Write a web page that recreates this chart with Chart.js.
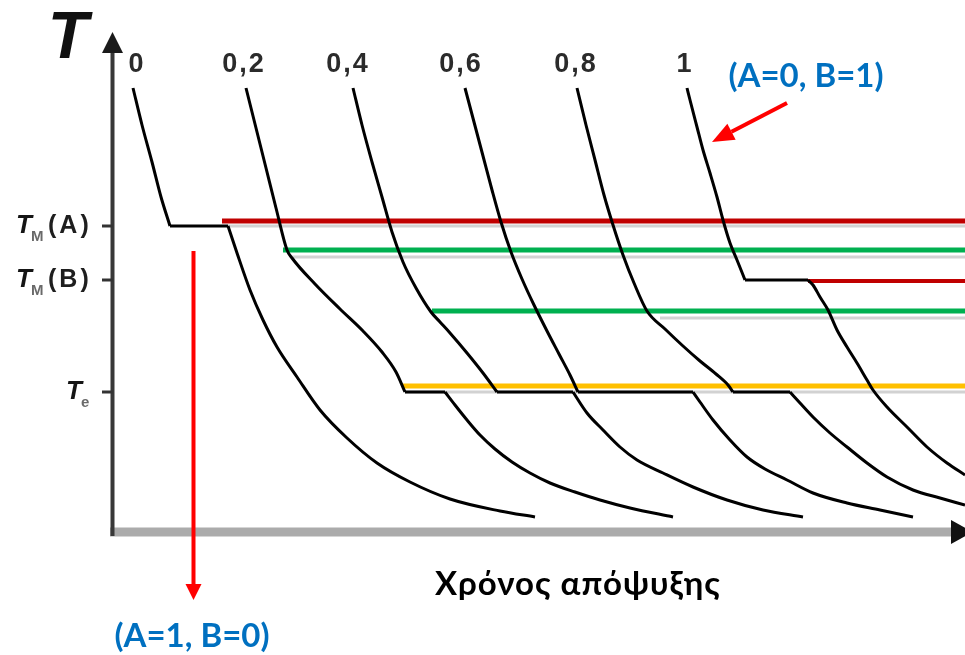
<!DOCTYPE html>
<html>
<head>
<meta charset="utf-8">
<script src="https://cdn.jsdelivr.net/npm/chart.js@4.4.0/dist/chart.umd.min.js"></script>
<style>
  html, body { margin: 0; padding: 0; background: #fff; }
  #wrap { width: 965px; height: 655px; }
</style>
</head>
<body>
<div id="wrap"><canvas id="chart" width="965" height="655"></canvas></div>
<script>
// cooling curves: t = time, T = temperature (arbitrary units)
const compLabels = ["0", "0,2", "0,4", "0,6", "0,8", "1"];
const compLabelT = [24, 131, 235, 348, 463, 572];

const curve00 = [[20,444],[29,407],[39,370],[48,335],[57,306],[115,306],[124,279],[137,242],[150,212],[164,185],[184,155],[207,122],[234,94],[264,69],[297,50],[337,33],[387,21],[422,15]];
const curve02 = [[133,444],[143,404],[153,364],[163,324],[174,282],[179,274],[202,248],[227,223],[250,201],[269,180],[283,160],[292,140],[332,140],[342,127],[354,112],[367,97],[382,83],[399,70],[417,59],[437,49],[462,40],[487,32],[517,24],[560,15]];
const curve04 = [[240,444],[249,407],[259,370],[269,335],[279,300],[290,270],[303,244],[318,220],[327,210],[337,199],[354,179],[370,159],[384,140],[460,140],[474,119],[490,102],[507,85],[524,72],[550,59],[580,45],[614,32],[650,22],[690,15]];
const curve06 = [[352,444],[361,410],[370,376],[379,342],[388,310],[398,280],[409,253],[421,227],[434,201],[446,178],[457,157],[465,140],[580,140],[587,130],[600,112],[617,92],[634,75],[652,63],[674,52],[700,39],[734,29],[767,22],[800,15]];
const curve08 = [[464,444],[473,407],[482,372],[491,337],[500,307],[510,277],[521,249],[534,221],[552,203],[570,186],[587,171],[603,158],[615,147],[620,140],[677,140],[687,129],[700,115],[717,99],[734,85],[754,69],[774,55],[800,42],[827,34],[852,27]];
const curve10 = [[574,444],[577,432],[584,405],[590,382],[597,359],[604,335],[610,312],[617,289],[624,272],[632,252],[695,252],[700,247],[707,235],[715,222],[724,202],[734,185],[744,169],[754,152],[760,142],[774,125],[794,105],[814,85],[834,69],[852,57]];

const tickLevels = [306, 252, 140];
const tickMain = ["T", "T", "T"];
const tickSub = ["M", "M", "e"];
const tickTail = ["(A)", "(B)", ""];

// coloured marker lines: start time and level
const markStart = [109, 170, 695, 319, 289];
const markLevel = [311, 282, 251, 221, 146];
// faint grey lines under them
const shadowStart = [115, 177, 547, 292];
const shadowLevel = [306, 275, 214, 140];

const tEnd = 852;

const curves = [curve00, curve02, curve04, curve06, curve08, curve10];
const markColors = ["#c00000", "#00b050", "#c00000", "#00b050", "#ffc000"];
const markWidths = [5, 5, 4, 5, 5];

const toXY = arr => arr.map(p => ({ x: p[0], y: p[1] }));

// cut a curve at its flat parts so the corners stay sharp
function pieces(c) {
  const out = [];
  let cur = [c[0]];
  for (let i = 0; i < c.length - 1; i++) {
    if (c[i][1] === c[i + 1][1]) {
      if (cur.length > 1) out.push(cur);
      out.push([c[i], c[i + 1]]);
      cur = [c[i + 1]];
    } else {
      cur.push(c[i + 1]);
    }
  }
  if (cur.length > 1) out.push(cur);
  return out;
}

const datasets = [];
curves.forEach(c => {
  pieces(c).forEach(p => {
    datasets.push({
      data: toXY(p),
      borderColor: "#000",
      borderWidth: 3,
      pointRadius: 0,
      showLine: true,
      cubicInterpolationMode: "monotone",
      order: 0
    });
  });
});
markStart.forEach((s, i) => {
  datasets.push({
    data: toXY([[s, markLevel[i]], [tEnd, markLevel[i]]]),
    borderColor: markColors[i],
    borderWidth: markWidths[i],
    pointRadius: 0,
    showLine: true,
    order: 1
  });
});
shadowStart.forEach((s, i) => {
  datasets.push({
    data: toXY([[s, shadowLevel[i]], [tEnd, shadowLevel[i]]]),
    borderColor: "#d2d2d2",
    borderWidth: 3,
    pointRadius: 0,
    showLine: true,
    order: 2
  });
});

function arrow(ctx, x1, y1, x2, y2, len, half, color, width) {
  const a = Math.atan2(y2 - y1, x2 - x1);
  const bx = x2 - len * Math.cos(a), by = y2 - len * Math.sin(a);
  ctx.strokeStyle = color;
  ctx.fillStyle = color;
  ctx.lineWidth = width;
  ctx.beginPath();
  ctx.moveTo(x1, y1);
  ctx.lineTo(bx, by);
  ctx.stroke();
  ctx.beginPath();
  ctx.moveTo(x2, y2);
  ctx.lineTo(bx + half * Math.sin(a), by - half * Math.cos(a));
  ctx.lineTo(bx - half * Math.sin(a), by + half * Math.cos(a));
  ctx.closePath();
  ctx.fill();
}

const axesPlugin = {
  id: "axesPlugin",
  beforeDatasetsDraw(chart) {
    const ctx = chart.ctx;
    const X = v => chart.scales.x.getPixelForValue(v);
    const Y = v => chart.scales.y.getPixelForValue(v);
    ctx.save();
    // x axis
    ctx.strokeStyle = "#ababab";
    ctx.lineWidth = 9;
    ctx.beginPath();
    ctx.moveTo(X(-3), Y(0));
    ctx.lineTo(X(840), Y(0));
    ctx.stroke();
    ctx.fillStyle = "#111";
    ctx.beginPath();
    ctx.moveTo(X(838), Y(0) - 12);
    ctx.lineTo(X(860), Y(0));
    ctx.lineTo(X(838), Y(0) + 12);
    ctx.closePath();
    ctx.fill();
    // y axis
    ctx.strokeStyle = "#383838";
    ctx.lineWidth = 4;
    ctx.beginPath();
    ctx.moveTo(X(0) - 0.5, Y(0) + 4);
    ctx.lineTo(X(0) - 0.5, Y(485));
    ctx.stroke();
    ctx.fillStyle = "#1a1a1a";
    ctx.beginPath();
    ctx.moveTo(X(0) - 0.5, Y(500));
    ctx.lineTo(X(0) - 11, Y(479));
    ctx.lineTo(X(0) + 10, Y(479));
    ctx.closePath();
    ctx.fill();
    // ticks
    ctx.strokeStyle = "#333";
    ctx.lineWidth = 3;
    tickLevels.forEach(v => {
      ctx.beginPath();
      ctx.moveTo(X(-11), Y(v));
      ctx.lineTo(X(0), Y(v));
      ctx.stroke();
    });
    ctx.restore();
  },
  afterDatasetsDraw(chart) {
    const ctx = chart.ctx;
    const X = v => chart.scales.x.getPixelForValue(v);
    const Y = v => chart.scales.y.getPixelForValue(v);
    ctx.save();

    // axis name
    ctx.fillStyle = "#111";
    ctx.font = "italic bold 66px 'Liberation Sans', Arial, sans-serif";
    ctx.textAlign = "center";
    ctx.textBaseline = "alphabetic";
    ctx.fillText("T", X(-45), Y(474));

    // composition labels above each curve
    ctx.fillStyle = "#2b2b2b";
    ctx.font = "bold 27px 'Liberation Sans', Arial, sans-serif";
    ctx.letterSpacing = "2px";
    compLabels.forEach((s, i) => {
      ctx.fillText(s, X(compLabelT[i]), Y(460));
    });

    // y tick labels
    ctx.textAlign = "left";
    ctx.textBaseline = "middle";
    tickLevels.forEach((v, i) => {
      const y = Y(v);
      const hasTail = tickTail[i] !== "";
      const tx = hasTail ? X(-97) : X(-47);
      ctx.letterSpacing = "0px";
      ctx.fillStyle = "#151515";
      ctx.font = "italic bold 26px 'Liberation Sans', Arial, sans-serif";
      ctx.fillText(tickMain[i], tx, y);
      ctx.fillStyle = "#6a6a6a";
      ctx.font = "bold 15px 'Liberation Sans', Arial, sans-serif";
      ctx.letterSpacing = "3px";
      ctx.fillText(tickSub[i], tx + 15, y + 11);
      if (hasTail) {
        ctx.fillStyle = "#1e1e1e";
        ctx.font = "bold 25px 'Liberation Sans', Arial, sans-serif";
        ctx.letterSpacing = "3px";
        ctx.fillText(tickTail[i], X(-65), y);
      }
    });
    ctx.letterSpacing = "0px";

    // red arrows
    arrow(ctx, X(80.5), Y(281), X(80.5), Y(-68), 16, 8, "#ff0000", 4);
    arrow(ctx, X(674), Y(429), X(599), Y(390), 22, 9, "#ff0000", 4);

    // annotations
    ctx.textAlign = "center";
    ctx.textBaseline = "alphabetic";
    ctx.fillStyle = "#0070c0";
    ctx.font = "bold 33px Lato, 'Open Sans', sans-serif";
    ctx.fillText("(A=0, B=1)", X(693), Y(445));
    ctx.fillText("(A=1, B=0)", X(79), Y(-115));

    ctx.fillStyle = "#000";
    ctx.font = "bold 33px Lato, 'Open Sans', sans-serif";
    ctx.letterSpacing = "1px";
    ctx.fillText("Χρόνος απόψυξης", X(465), Y(-63));
    ctx.restore();
  }
};

new Chart(document.getElementById("chart"), {
  type: "scatter",
  data: { datasets: datasets },
  options: {
    responsive: false,
    animation: false,
    events: [],
    layout: { padding: { left: 113, right: 0, top: 0, bottom: 123 } },
    plugins: {
      legend: { display: false },
      tooltip: { enabled: false }
    },
    scales: {
      x: { type: "linear", min: 0, max: tEnd, display: false },
      y: { type: "linear", min: 0, max: 532, display: false }
    }
  },
  plugins: [axesPlugin]
});
</script>
</body>
</html>
